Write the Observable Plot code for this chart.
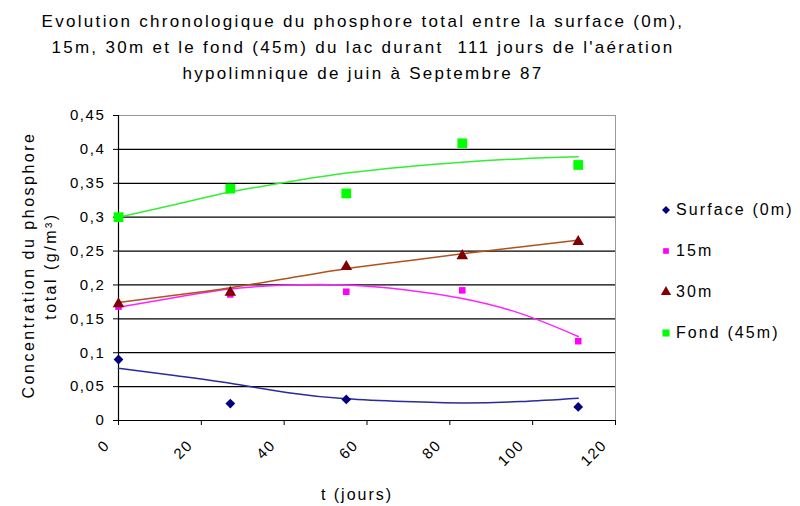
<!DOCTYPE html>
<html>
<head>
<meta charset="utf-8">
<script src="https://cdn.jsdelivr.net/npm/d3@7"></script>
<script src="https://cdn.jsdelivr.net/npm/@observablehq/plot@0.6"></script>
<style>
  body { margin: 0; background: #fff; }
  #wrap { position: relative; width: 800px; height: 506px; font-family: "Liberation Sans", Arial, sans-serif; color: #000; overflow: hidden; }
  #title { position: absolute; left: 0; top: 9px; width: 726px; text-align: center; font-size: 17px; line-height: 26px; letter-spacing: 2.3px; }
  #chart { position: absolute; left: 0; top: 90px; }
  .ylab { position: absolute; font-size: 16px; letter-spacing: 2.5px; white-space: nowrap; transform: translate(-50%, -50%) rotate(-90deg); }
  #xlab { position: absolute; left: 357px; top: 495px; transform: translate(-50%, -50%); font-size: 16px; letter-spacing: 2px; white-space: nowrap; }
  #legend { position: absolute; left: 658px; top: 189px; font-size: 16px; letter-spacing: 2.1px; }
  .item { display: flex; align-items: center; height: 41px; }
  .item svg { margin-right: 2px; }
</style>
</head>
<body>
<div id="wrap">
  <div id="title">Evolution chronologique du phosphore total entre la surface (0m),<br>15m, 30m et le fond (45m) du lac durant&nbsp; 111 jours de l'aération<br>hypolimnique de juin à Septembre 87</div>
  <div id="chart"></div>
  <div class="ylab" style="left:29px; top:265px;">Concentration du phosphore</div>
  <div class="ylab" style="left:51px; top:266px;">total (g/m³)</div>
  <div id="xlab">t (jours)</div>
  <div id="legend"></div>
</div>
<script>
// ---- data ----
const days = [0, 27, 55, 83, 111];
const surface = [0.090, 0.025, 0.031, null, 0.020];
const m15 = [0.168, 0.186, 0.190, 0.192, 0.117];
const m30 = [0.172, 0.189, 0.227, 0.243, 0.264];
const fond = [0.300, 0.342, 0.335, 0.409, 0.377];

// trend lines
const trendDays = [0, 14, 27, 41, 55, 69, 83, 97, 111];
const trendSurface = [0.077, 0.066, 0.055, 0.041, 0.032, 0.028, 0.026, 0.028, 0.033];
const trend15 = [0.167, 0.182, 0.194, 0.200, 0.200, 0.193, 0.180, 0.158, 0.124];
const trend30 = [0.174, 0.185, 0.196, 0.210, 0.224, 0.235, 0.246, 0.256, 0.266];
const trendFond = [0.300, 0.319, 0.337, 0.352, 0.365, 0.374, 0.381, 0.386, 0.389];

const seriesNames = ["Surface (0m)", "15m", "30m", "Fond (45m)"];
const markerColors = ["#000080", "#ff00ff", "#800000", "#00ff00"];
const lineColors = ["#2a2aa0", "#ff22ff", "#b0521c", "#33ee33"];
const symbols = ["diamond2", "square", "triangle", "square"];
const symbolR = [4.4, 3.7, 4.3, 5.5];
const legendR = [3.6, 3.2, 3.8, 4.0];

const xTicks = [0, 20, 40, 60, 80, 100, 120];
const yTicks = [0, 0.05, 0.1, 0.15, 0.2, 0.25, 0.3, 0.35, 0.4, 0.45];
const yTickLabels = ["0", "0,05", "0,1", "0,15", "0,2", "0,25", "0,3", "0,35", "0,4", "0,45"];

// ---- build tables ----
const allValues = [surface, m15, m30, fond];
const allTrends = [trendSurface, trend15, trend30, trendFond];
const points = [];
allValues.forEach((vals, s) => vals.forEach((v, i) => { if (v != null) points.push({s, day: days[i], v}); }));
const trends = [];
allTrends.forEach((vals, s) => vals.forEach((v, i) => trends.push({s, day: trendDays[i], v})));

const font = "'Liberation Sans', Arial, sans-serif";

const marks = [
  Plot.frame({stroke: "#9a9a9a"}),
  Plot.ruleY(yTicks.filter(d => d > 0 && d < 0.45), {stroke: "#000", strokeWidth: 1.2}),
  Plot.ruleY([0], {stroke: "#000", strokeWidth: 1.2}),
  Plot.ruleX([0], {stroke: "#000", strokeWidth: 1.2}),
  Plot.axisY({ticks: yTicks, tickFormat: d => yTickLabels[yTicks.indexOf(d)], tickSize: 5, tickPadding: 8, label: null, fontSize: 15}),
  // tick marks only
  Plot.axisX({ticks: xTicks, tickSize: 5, tickFormat: () => "", label: null}),
  // rotated labels only
  Plot.axisX({ticks: xTicks, tickRotate: -45, tickSize: 0, tickPadding: 22, dx: -11, label: null, fontSize: 15})
];
for (let s = 0; s < 4; s++) {
  marks.push(Plot.line(trends.filter(d => d.s === s), {x: "day", y: "v", stroke: lineColors[s], strokeWidth: 1.5, curve: "natural"}));
}
for (let s = 0; s < 4; s++) {
  marks.push(Plot.dot(points.filter(d => d.s === s), {x: "day", y: "v", fill: markerColors[s], stroke: "none", symbol: symbols[s], r: symbolR[s]}));
}

const chart = Plot.plot({
  width: 800,
  height: 416,
  marginLeft: 118,
  marginRight: 185,
  marginTop: 25,
  marginBottom: 86,
  x: {domain: [0, 120]},
  y: {domain: [0, 0.45]},
  style: {fontFamily: font, fontSize: "15px", letterSpacing: "1.6px", color: "#000", background: "transparent"},
  marks
});
document.getElementById("chart").appendChild(chart);

// ---- legend ----
const legend = document.getElementById("legend");
const symbolTypes = {diamond2: d3.symbolDiamond2, square: d3.symbolSquare, triangle: d3.symbolTriangle};
seriesNames.forEach((name, s) => {
  const item = document.createElement("div");
  item.className = "item";
  const size = Math.PI * legendR[s] * legendR[s];
  item.innerHTML = `<svg width="16" height="16"><path transform="translate(8,8)" d="${d3.symbol(symbolTypes[symbols[s]], size)()}" fill="${markerColors[s]}"></path></svg><span>${name}</span>`;
  legend.appendChild(item);
});
</script>
</body>
</html>
